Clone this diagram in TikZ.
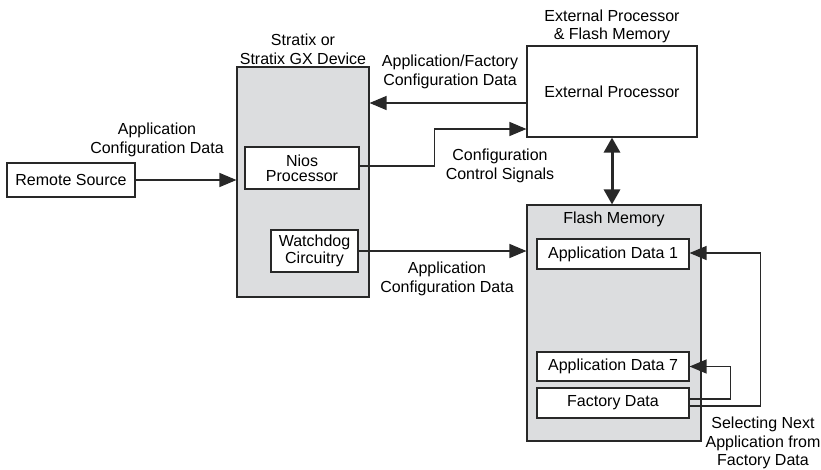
\documentclass[tikz,border=0pt]{standalone}
\usepackage{fontspec}
\setmainfont{Liberation Sans}
\usetikzlibrary{arrows.meta}

\definecolor{panelgray}{RGB}{220,221,223}
\definecolor{inkgray}{RGB}{40,40,40}

\tikzset{
    box/.style={draw=inkgray, line width=1.1pt, fill=white, inner sep=0pt, align=center,
        font=\fontsize{16}{18.5}\selectfont},
    graybox/.style={box, fill=panelgray},
    lbl/.style={inner sep=2pt, align=center, font=\fontsize{16}{18.5}\selectfont},
    arr/.style={draw=inkgray, line width=1.2pt, -{Triangle[length=17pt,width=14pt]}},
    dblarr/.style={draw=inkgray, line width=3pt, {Triangle[length=15pt,width=16pt]}-{Triangle[length=15pt,width=16pt]}}
}

\begin{document}
\begin{tikzpicture}[x=1pt, y=-1pt]

    \useasboundingbox (0, 0) rectangle (821, 469);

    % gray panels
    \node[graybox, minimum width=132pt, minimum height=230pt] (device) at (303, 182) {};
    \node[graybox, minimum width=174pt, minimum height=236pt] (flash) at (614, 323) {};

    % boxes
    \node[box, minimum width=128pt, minimum height=34pt] (remote) at (71, 180) {Remote Source};
    \node[box, minimum width=114pt, minimum height=42pt, font=\fontsize{16}{15}\selectfont] (nios) at (302, 168) {Nios\\Processor};
    \node[box, minimum width=87pt, minimum height=42pt, font=\fontsize{16}{17.5}\selectfont] (watch) at (314.5, 251) {Watchdog\\Circuitry};
    \node[box, minimum width=170pt, minimum height=91pt] (ext) at (612, 91.5) {External Processor};
    \node[box, minimum width=152pt, minimum height=30pt] (app1) at (613, 254) {Application Data 1};
    \node[box, minimum width=152pt, minimum height=29pt] (app7) at (613, 366.5) {Application Data 7};
    \node[box, minimum width=152pt, minimum height=30pt] (fac) at (613, 403) {Factory Data};

    % titles
    \node[lbl, above] (devtitle) at (device.north) {Stratix or\\Stratix GX Device};
    \node[lbl, above] (exttitle) at (ext.north) {External Processor\\\& Flash Memory};
    \node[lbl] (flashtitle) at (614, 219) {Flash Memory};

    % connector labels
    \node[lbl] (remotelbl) at (157, 140) {Application\\Configuration Data};
    \node[lbl] (extlbl) at (450, 72) {Application/Factory\\Configuration Data};
    \node[lbl] (ctrllbl) at (500, 166) {Configuration\\Control Signals};
    \node[lbl] (watchlbl) at (447, 279) {Application\\Configuration Data};
    \node[lbl] (selectlbl) at (763, 443) {Selecting Next\\Application from\\Factory Data};

    % connectors
    \draw[arr] (remote.east) -- (remote.east -| device.west);
    \draw[arr] ([yshift=-11.5pt]ext.west) -- ([yshift=-11.5pt]ext.west -| device.east);
    \draw[arr] ([yshift=2pt]nios.east) -- ++(75, 0) |- ([yshift=-37.5pt]ext.west);
    \draw[arr] (watch.east) -- (watch.east -| flash.west);
    \draw[dblarr] (ext.south) -- (ext.south |- flash.north);
    \draw[arr] ([yshift=4pt]fac.east) -- ++(41, 0) |- (app7.east);
    \draw[arr] ([yshift=-3pt]fac.east) -- ++(71, 0) |- ([yshift=1pt]app1.east);

\end{tikzpicture}
\end{document}
